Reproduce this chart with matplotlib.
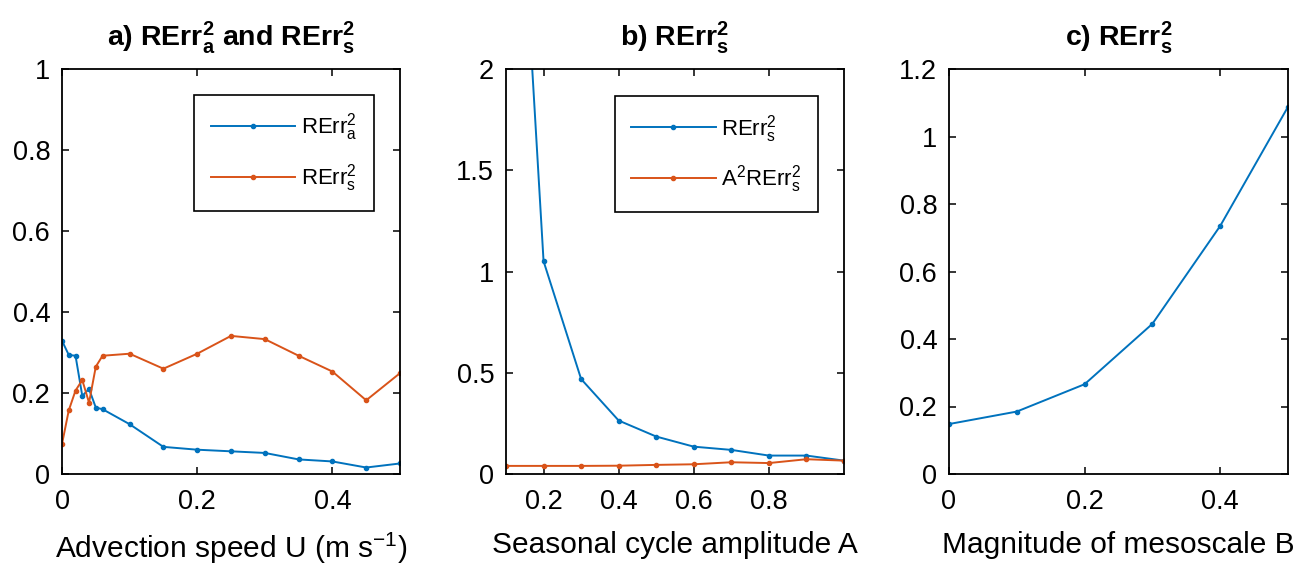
import numpy as np
import matplotlib
matplotlib.use("Agg")
import matplotlib.pyplot as plt
from matplotlib.ticker import FormatStrFormatter

# -- Data --
u_speed = [0, 0.01, 0.02, 0.03, 0.04, 0.05, 0.06, 0.1, 0.15, 0.2, 0.25, 0.3, 0.35, 0.4, 0.45, 0.5]
rerr_a = [0.329, 0.294, 0.292, 0.193, 0.21, 0.164, 0.16, 0.123, 0.067, 0.06, 0.056, 0.052, 0.036, 0.031, 0.016, 0.026]
rerr_s_u = [0.074, 0.157, 0.206, 0.232, 0.176, 0.265, 0.292, 0.297, 0.26, 0.297, 0.341, 0.333, 0.292, 0.253, 0.182, 0.249]

amp_A = [0.1, 0.2, 0.3, 0.4, 0.5, 0.6, 0.7, 0.8, 0.9, 1.0]
rerr_s_A = [4.2, 1.051, 0.469, 0.264, 0.185, 0.135, 0.119, 0.091, 0.091, 0.066]
a2_rerr_s = [0.04, 0.04, 0.04, 0.041, 0.045, 0.048, 0.058, 0.054, 0.073, 0.066]

meso_B = [0, 0.1, 0.2, 0.3, 0.4, 0.5]
rerr_s_B = [0.148, 0.185, 0.266, 0.445, 0.735, 1.088]

BLUE = '#0072BD'
ORANGE = '#D95319'

plt.rcParams['font.family'] = ['Liberation Sans', 'DejaVu Sans']
plt.rcParams['mathtext.fontset'] = 'custom'
plt.rcParams['mathtext.rm'] = 'Liberation Sans'
plt.rcParams['mathtext.it'] = 'Liberation Sans:italic'
plt.rcParams['mathtext.bf'] = 'Liberation Sans:bold'
plt.rcParams['mathtext.default'] = 'regular'

TICK_FS = 19.5
LABEL_FS = 21.5
TITLE_FS = 20.5
LEG_FS = 16


def style_axes(ax):
    for s in ax.spines.values():
        s.set_linewidth(1.3)
    ax.tick_params(direction='in', top=True, right=True, length=5, width=1.1,
                   labelsize=TICK_FS)
    ax.tick_params(axis='x', pad=11)
    ax.tick_params(axis='y', pad=8.5)
    ax.yaxis.set_major_formatter(FormatStrFormatter('%g'))
    ax.xaxis.set_major_formatter(FormatStrFormatter('%g'))


def add_legend(ax, anchor):
    leg = ax.legend(loc='upper right', bbox_to_anchor=anchor, borderaxespad=0,
                    numpoints=1, fontsize=LEG_FS, handlelength=3.8, handletextpad=0.25,
                    fancybox=False, edgecolor='black', framealpha=1,
                    borderpad=0.75, labelspacing=0.85)
    leg.get_frame().set_linewidth(1.2)
    return leg


def main():
    fig = plt.figure(figsize=(12.99, 5.65), dpi=100)
    W, H = 1299, 565
    boxes = [(62, 400), (506, 844), (949, 1288)]
    top, bot = 69, 474
    axs = [fig.add_axes([l / W, (H - bot) / H, (r - l) / W, (bot - top) / H]) for l, r in boxes]

    kw = dict(marker='.', markersize=6, linewidth=1.4)

    # -- a) --
    ax = axs[0]
    ax.plot(u_speed, rerr_a, color=BLUE, label=r'RErr$^2_a$', **kw)
    ax.plot(u_speed, rerr_s_u, color=ORANGE, label=r'RErr$^2_s$', **kw)
    ax.set_xlim(0, 0.5)
    ax.set_ylim(0, 1)
    ax.set_xticks([0, 0.2, 0.4])
    ax.set_yticks(np.arange(0, 1.01, 0.2))
    ax.set_xlabel(r'Advection speed U (m s$^{-1}$)', fontsize=LABEL_FS, labelpad=11.5)
    ax.set_title(r'a) RErr$^{\mathbf{2}}_{\mathbf{a}}$ and RErr$^{\mathbf{2}}_{\mathbf{s}}$',
                 fontsize=TITLE_FS, fontweight='bold', pad=17)
    add_legend(ax, (0.923, 0.936))
    style_axes(ax)

    # -- b) --
    ax = axs[1]
    ax.plot(amp_A, rerr_s_A, color=BLUE, label=r'RErr$^2_s$', **kw)
    ax.plot(amp_A, a2_rerr_s, color=ORANGE, label=r'A$^2$RErr$^2_s$', **kw)
    ax.set_xlim(0.1, 1.0)
    ax.set_ylim(0, 2)
    ax.set_xticks([0.2, 0.4, 0.6, 0.8])
    ax.set_yticks([0, 0.5, 1, 1.5, 2])
    ax.set_xlabel('Seasonal cycle amplitude A', fontsize=LABEL_FS, labelpad=11)
    ax.set_title(r'b) RErr$^{\mathbf{2}}_{\mathbf{s}}$', fontsize=TITLE_FS,
                 fontweight='bold', pad=17)
    add_legend(ax, (0.923, 0.933))
    style_axes(ax)

    # -- c) --
    ax = axs[2]
    ax.plot(meso_B, rerr_s_B, color=BLUE, **kw)
    ax.set_xlim(0, 0.5)
    ax.set_ylim(0, 1.2)
    ax.set_xticks([0, 0.2, 0.4])
    ax.set_yticks(np.arange(0, 1.21, 0.2))
    ax.set_xlabel('Magnitude of mesoscale B', fontsize=LABEL_FS, labelpad=11)
    ax.set_title(r'c) RErr$^{\mathbf{2}}_{\mathbf{s}}$', fontsize=TITLE_FS,
                 fontweight='bold', pad=17)
    style_axes(ax)

    fig.savefig('out.png', dpi=100)


if __name__ == "__main__":
    main()
